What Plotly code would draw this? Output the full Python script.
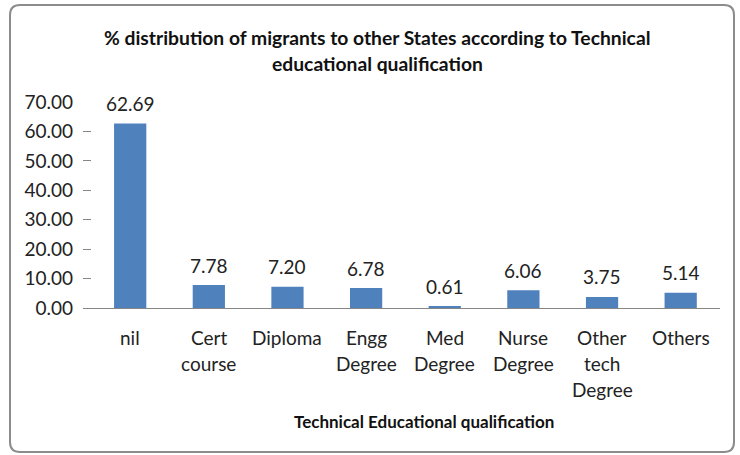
import plotly.graph_objects as go

categories = ["nil", "Cert<br>course", "Diploma", "Engg<br>Degree", "Med<br>Degree",
              "Nurse<br>Degree", "Other<br>tech<br>Degree", "Others"]
values = [62.69, 7.78, 7.20, 6.78, 0.61, 6.06, 3.75, 5.14]
y_ticks = [0, 10, 20, 30, 40, 50, 60, 70]
title_lines = ["% distribution of migrants to other States according to Technical",
               "educational qualification"]
x_title = "Technical Educational qualification"

W, H = 740, 455
L, R, T, B = 83, 20, 102, 147
pw, ph = W - L - R, H - T - B

def px(x): return (x - L) / pw
def py(y): return (H - B - y) / ph

FONT = "Lato"
fig = go.Figure()
fig.add_trace(go.Bar(x=list(range(len(categories))), y=values, width=0.41,
                     marker=dict(color="#4F81BD", line=dict(width=0)),
                     hoverinfo="y"))

ann = []
for i, (c, v) in enumerate(zip(categories, values)):
    ann.append(dict(x=i, y=v, xref="x", yref="y", text=f"{v:.2f}", showarrow=False,
                    yanchor="middle", yshift=20, font=dict(family=FONT, size=19, color="#222")))
    for j, line in enumerate(c.split("<br>")):
        ann.append(dict(x=i, y=0, xref="x", yref="paper", text=line, showarrow=False,
                        yanchor="middle", yshift=-29 - 26 * j,
                        font=dict(family=FONT, size=19, color="#222")))
ann.append(dict(x=px(424), y=py(421), xref="paper", yref="paper", text=f"<b>{x_title}</b>",
                showarrow=False, yanchor="middle",
                font=dict(family=FONT, size=17, color="#111")))
for j, line in enumerate(title_lines):
    ann.append(dict(x=px(377), y=py(38 + 25 * j), xref="paper", yref="paper", text=f"<b>{line}</b>",
                    showarrow=False, yanchor="middle",
                    font=dict(family=FONT, size=19.3, color="#111")))

x0, x1, y0, y1, r = 10, 734, 5, 452, 10
path = (f"M {px(x0+r)},{py(y0)} L {px(x1-r)},{py(y0)} Q {px(x1)},{py(y0)} {px(x1)},{py(y0+r)} "
        f"L {px(x1)},{py(y1-r)} Q {px(x1)},{py(y1)} {px(x1-r)},{py(y1)} "
        f"L {px(x0+r)},{py(y1)} Q {px(x0)},{py(y1)} {px(x0)},{py(y1-r)} "
        f"L {px(x0)},{py(y0+r)} Q {px(x0)},{py(y0)} {px(x0+r)},{py(y0)} Z")

fig.update_layout(
    width=W, height=H, margin=dict(l=L, r=R, t=T, b=B),
    paper_bgcolor="white", plot_bgcolor="white", showlegend=False,
    annotations=ann,
    shapes=[dict(type="path", xref="paper", yref="paper", path=path,
                 line=dict(color="#8c8c8c", width=2), layer="below")],
    xaxis=dict(range=[-0.6, 7.5], showticklabels=False, ticks="", showgrid=False,
               zeroline=False, showline=True, linecolor="#868686", linewidth=1, fixedrange=True),
    yaxis=dict(range=[0, 70], tickvals=y_ticks, ticktext=[f"{t:.2f}" for t in y_ticks],
               ticks="inside", ticklen=8, tickcolor="#868686", showline=False, showgrid=False,
               zeroline=False, ticklabelstandoff=9,
               tickfont=dict(family=FONT, size=19, color="#222"), fixedrange=True),
)
fig.write_html("out.html", config={"displayModeBar": False},
               post_script="document.body.style.margin='0';")
